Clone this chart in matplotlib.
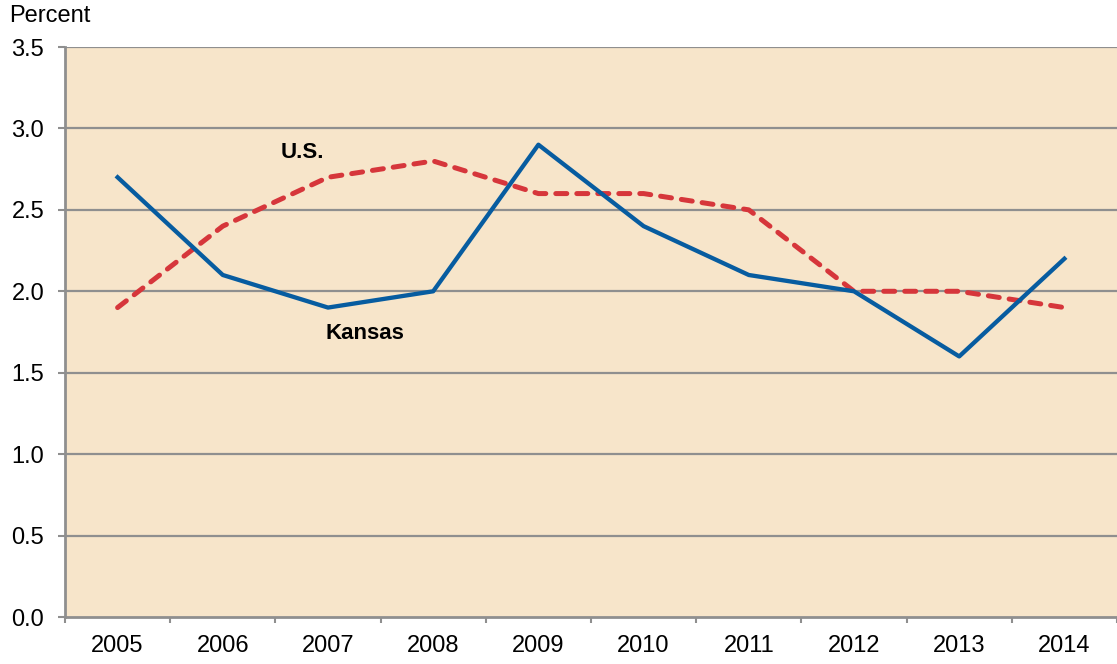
import matplotlib.pyplot as plt

years = ['2005', '2006', '2007', '2008', '2009', '2010', '2011', '2012', '2013', '2014']
kansas = [2.7, 2.1, 1.9, 2.0, 2.9, 2.4, 2.1, 2.0, 1.6, 2.2]
us = [1.9, 2.4, 2.7, 2.8, 2.6, 2.6, 2.5, 2.0, 2.0, 1.9]
y_ticks = [0.0, 0.5, 1.0, 1.5, 2.0, 2.5, 3.0, 3.5]

plt.rcParams['font.family'] = ['Liberation Sans', 'DejaVu Sans']

fig = plt.figure(figsize=(11.17, 6.64), dpi=100)
ax = fig.add_axes([65 / 1117, 47 / 664, 1 - 65 / 1117, 570 / 664])
ax.set_facecolor('#F7E5CA')

x = range(len(years))
for v in y_ticks[1:]:
    ax.axhline(v, color='#8F8F8F', lw=1.6, zorder=1)

ax.plot(x, us, color='#D6363B', lw=3.6, ls=(0, (2.2, 2.0)),
        dash_capstyle='round', zorder=3)
ax.plot(x, kansas, color='#075CA0', lw=3.1, zorder=4)

ax.set_xlim(-0.5, len(years) - 0.5)
ax.set_ylim(0, 3.5)
ax.set_yticks(y_ticks)
ax.set_yticklabels([f'{v:.1f}' for v in y_ticks], fontsize=17)
# year boundaries get the tick marks, labels sit between them
ax.set_xticks([i - 0.5 for i in range(len(years) + 1)], minor=False)
ax.set_xticklabels([])
ax.set_xticks(list(x), minor=True)
ax.set_xticklabels(years, minor=True, fontsize=17)
ax.tick_params(axis='x', which='major', length=4.5, width=1.5, color='#8F8F8F', direction='out')
ax.tick_params(axis='x', which='minor', length=0, pad=13)
ax.tick_params(axis='y', length=5, width=1.5, color='#8F8F8F', pad=10)

for side in ['top', 'right']:
    ax.spines[side].set_visible(False)
for side in ['left', 'bottom']:
    ax.spines[side].set_color('#8F8F8F')
    ax.spines[side].set_linewidth(2)

ax.text(1.76, 2.855, 'U.S.', fontsize=16, fontweight='bold', ha='center', va='center')
ax.text(2.35, 1.738, 'Kansas', fontsize=16, fontweight='bold', ha='center', va='center')
fig.text(9 / 1117, 1 - 16 / 664, 'Percent', fontsize=17, ha='left', va='center')

fig.savefig('out.png', dpi=100)
